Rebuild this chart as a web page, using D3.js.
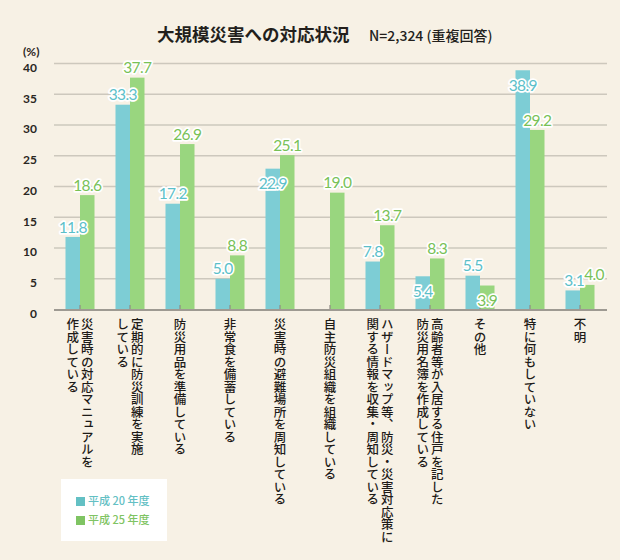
<!DOCTYPE html>
<html><head><meta charset="utf-8">
<script src="https://cdn.jsdelivr.net/npm/d3@7"></script>
<style>
html,body{margin:0;padding:0;background:#f7f1e5;}
svg{display:block;}
</style></head>
<body>
<svg id="chart" width="620" height="560"></svg>
<script>
const categories = [
  ["災害時の対応マニュアルを","作成している"],
  ["定期的に防災訓練を実施","している"],
  ["防災用品を準備している"],
  ["非常食を備蓄している"],
  ["災害時の避難場所を周知している"],
  ["自主防災組織を組織している"],
  ["ハザードマップ等、防災・災害対応策に","関する情報を収集・周知している"],
  ["高齢者等が入居する住戸を記した","防災用名簿を作成している"],
  ["その他"],
  ["特に何もしていない"],
  ["不明"]
];
const seriesNames = ["平成 20 年度","平成 25 年度"];
const valuesH20 = [11.8, 33.3, 17.2, 5.0, 22.9, null, 7.8, 5.4, 5.5, 38.9, 3.1];
const valuesH25 = [18.6, 37.7, 26.9, 8.8, 25.1, 19.0, 13.7, 8.3, 3.9, 29.2, 4.0];
const yTicks = [0, 5, 10, 15, 20, 25, 30, 35, 40];
const title = "大規模災害への対応状況";
const subtitle = "N=2,324 (重複回答)";
const yUnit = "(%)";

// label placement hints (indices whose label sits just inside the bar top)
const insideLabel = [[4, 7, 9], [8]];

const barColors = ["#7dcdd5", "#99d67f"];
const labelColors = ["#5cbfc9", "#78c157"];
const legendColors = ["#63c0c4", "#7fc463"];

const svg = d3.select("#chart");
svg.append("rect").attr("width",620).attr("height",560).attr("fill","#f7f1e5");

const y = d3.scaleLinear().domain([0,40]).range([309.5, 63.5]);
const idx = categories.map((d,i)=>i);
const x = d3.scaleBand().domain(idx).range([55,605]).paddingInner(0.42).paddingOuter(0.21);
const xs = d3.scaleBand().domain([0,1]).range([0, x.bandwidth()]).padding(0);

// title
svg.append("text").attr("x",157).attr("y",41)
  .attr("font-family","'Noto Sans CJK JP'").attr("font-weight","bold")
  .attr("font-size",17.5).attr("fill","#231f1c").text(title);
svg.append("text").attr("x",369).attr("y",41)
  .attr("font-family","'Noto Sans CJK JP'").attr("font-weight",500)
  .attr("font-size",14).attr("fill","#231f1c").text(subtitle);

// grid
const gridTicks = yTicks.filter(t=>t>0);
svg.append("g").selectAll("line").data(gridTicks).join("line")
  .attr("x1",54).attr("x2",607)
  .attr("y1",d=>y(d)).attr("y2",d=>y(d))
  .attr("stroke","#cdc8bd").attr("stroke-width",1.6);

// y axis labels
const yAxis = d3.axisLeft(y).tickValues(yTicks).tickSize(0).tickPadding(0);
const ga = svg.append("g").attr("transform","translate(37,4)").call(yAxis);
ga.select(".domain").remove();
ga.selectAll("text").attr("font-family","Lato, 'Noto Sans'").attr("font-weight","bold")
  .attr("font-size",12).attr("fill","#2a2622");
svg.append("text").attr("x",23).attr("y",56)
  .attr("font-family","Lato, 'Noto Sans'").attr("font-weight","bold")
  .attr("font-size",12).attr("fill","#2a2622").text(yUnit);

// bars
const series = [valuesH20, valuesH25];
series.forEach((vals, s) => {
  svg.append("g").selectAll("rect").data(vals.map((v,i)=>({v,i})).filter(d=>d.v!=null)).join("rect")
    .attr("x", d=>x(d.i)+xs(s))
    .attr("width", xs.bandwidth())
    .attr("y", d=>y(d.v))
    .attr("height", d=>y(0)-y(d.v))
    .attr("fill", barColors[s]);
});

// axis line
svg.append("line").attr("x1",54).attr("x2",607).attr("y1",310).attr("y2",310)
  .attr("stroke","#9e9a92").attr("stroke-width",2.2);
svg.append("g").selectAll("line").data(idx).join("line")
  .attr("x1",d=>x(d)+x.bandwidth()/2).attr("x2",d=>x(d)+x.bandwidth()/2)
  .attr("y1",309).attr("y2",305).attr("stroke","#8f8b84").attr("stroke-width",1.2);

// value labels
const labelNodes = [[],[]];
series.forEach((vals, s) => {
  svg.append("g").selectAll("text").data(vals.map((v,i)=>({v,i})).filter(d=>d.v!=null)).join("text")
    .attr("x", d=>x(d.i)+xs(s)+xs.bandwidth()/2)
    .attr("y", d=> insideLabel[s].includes(d.i) ? y(d.v)+15 : y(d.v)-10)
    .attr("dy","0.36em")
    .attr("text-anchor","middle")
    .attr("font-family","Lato, 'Open Sans'")
    .attr("font-size",15.5)
    .attr("letter-spacing",-0.6)
    .attr("fill", labelColors[s])
    .attr("stroke","#ffffff").attr("stroke-width",3.4).attr("stroke-linejoin","round")
    .attr("paint-order","stroke")
    .text(d=>d.v.toFixed(1))
    .each(function(d){ labelNodes[s][d.i] = this; });
});
// resolve horizontal collisions between the two labels of a group
idx.forEach(i => {
  const a = labelNodes[0][i], b = labelNodes[1][i];
  if (!a || !b) return;
  const ba = a.getBBox(), bb = b.getBBox();
  const vOverlap = Math.min(ba.y+ba.height, bb.y+bb.height) - Math.max(ba.y, bb.y);
  const hOverlap = (ba.x+ba.width) - bb.x;
  if (vOverlap > 4 && hOverlap > 0) {
    d3.select(a).attr("x", +a.getAttribute("x") + 1.5);
    d3.select(b).attr("x", +b.getAttribute("x") + hOverlap + 1.5);
  }
});

// category labels (vertical)
const lineGap = 14.5;
categories.forEach((lines, i) => {
  const cx = x(i)+x.bandwidth()/2;
  const n = lines.length;
  lines.forEach((ln, j) => {
    const off = ((n-1)/2 - j) * lineGap;
    svg.append("text")
      .attr("x", cx + off).attr("y", 318)
      .style("writing-mode","vertical-rl")
      .attr("font-family","'Noto Sans CJK JP'")
      .attr("font-weight",500)
      .attr("font-size",12.5)
      .attr("fill","#1e1b18")
      .text(ln);
  });
});

// legend
const lg = svg.append("g");
lg.append("rect").attr("x",61).attr("y",479).attr("width",106).attr("height",62).attr("fill","#ffffff");
seriesNames.forEach((nm, s) => {
  lg.append("rect").attr("x",76).attr("y",497+s*19).attr("width",9).attr("height",9).attr("fill",legendColors[s]);
  lg.append("text").attr("x",88).attr("y",501.5+s*19).attr("dy","0.36em")
    .attr("font-family","'Noto Sans CJK JP'").attr("font-weight",500)
    .attr("font-size",11).attr("fill",legendColors[s]).text(nm);
});
</script>
</body></html>
